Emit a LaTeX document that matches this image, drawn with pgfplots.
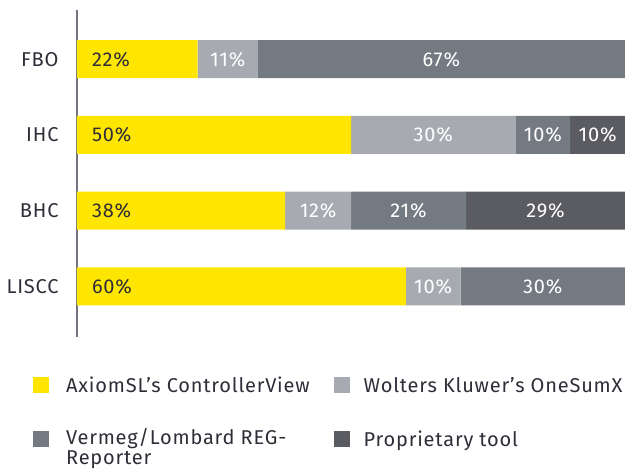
\documentclass[border=0pt]{standalone}
\usepackage{fontspec}
\setmainfont{Fira Sans}[LetterSpace=4]
\usepackage{pgfplots}
\usepackage{pgfplotstable}
\pgfplotsset{compat=1.18}
\definecolor{eyyellow}{HTML}{FFE600}
\definecolor{eylight}{HTML}{A7ABB1}
\definecolor{eymid}{HTML}{747A82}
\definecolor{eydark}{HTML}{5B5B62}
\definecolor{eytext}{HTML}{2E2E38}
\definecolor{eyaxis}{HTML}{747480}

% y: 0 = LISCC, 1 = BHC, 2 = IHC, 3 = FBO
\pgfplotstableread{
y  a   b   c   d
0  60  10  30  0
1  38  12  21  29
2  50  30  10  10
3  22  11  67  0
}\datatable

\newcommand{\lblfont}{\fontsize{20bp}{20bp}\selectfont}
% label centred in its segment (nodes sit at segment centres)
\newcommand{\centrelbl}{%
  \ifnum\pgfplotspointmeta>0
    \makebox[0pt][c]{\pgfplotspointmeta\%}%
  \fi}
% label near the bar's left end
\newcommand{\leftlbl}{%
  \pgfmathsetlengthmacro\sh{-\pgfplotspointmeta*2.74bp+15bp}%
  \makebox[0pt][l]{\hspace*{\sh}\pgfplotspointmeta\%}}

\begin{document}
\begin{tikzpicture}
\begin{axis}[
  name=ax,
  at={(0,0)}, anchor=south west,
  scale only axis,
  width=548bp, height=327bp,
  xbar stacked,
  bar width=38bp,
  xmin=0, xmax=100,
  ymin=-0.67, ymax=3.65,
  axis x line=none,
  axis y line*=left,
  y axis line style={draw=eyaxis, line width=1.3bp, -},
  ytick={0,1,2,3},
  yticklabels={LISCC,BHC,IHC,FBO},
  major tick length=0pt,
  yticklabel style={font=\lblfont, text=eytext, xshift=-15bp},
  clip=false,
  point meta=explicit symbolic,
  nodes near coords=\centrelbl,
  every node near coord/.append style={font=\lblfont, text=white, anchor=center, inner sep=0pt},
  legend columns=2,
  legend cell align=left,
  legend style={
    draw=none, fill=none, inner sep=0pt,
    at={(-0.0803,-0.115)}, anchor=north west,
    font=\lblfont, text=eytext,
    /tikz/every even column/.append style={column sep=22bp},
    /tikz/column 1/.style={column sep=15bp},
    /tikz/column 3/.style={column sep=12bp},
    row sep=33bp,
  },
  legend image code/.code={\fill[#1] (0bp,-8bp) rectangle (16bp,8bp);},
]
\addplot+[draw=none, fill=eyyellow, nodes near coords=\leftlbl,
  every node near coord/.append style={text=eytext}]
  table[x=a, y=y, meta=a] {\datatable};
\addplot+[draw=none, fill=eylight]
  table[x=b, y=y, meta=b] {\datatable};
\addplot+[draw=none, fill=eymid]
  table[x=c, y=y, meta=c] {\datatable};
\addplot+[draw=none, fill=eydark]
  table[x=d, y=y, meta=d] {\datatable};
\legend{AxiomSL’s ControllerView, Wolters Kluwer’s OneSumX,
  {\smash{\raisebox{-6bp}{\vtop{\hbox{Vermeg/Lombard REG-}\hbox{Reporter}}}}},
  Proprietary tool}
\end{axis}
\pgfresetboundingbox
\path[use as bounding box] (ax.south west) ++(-77bp,-134bp) rectangle ++(625bp,471bp);
\end{tikzpicture}
\end{document}
